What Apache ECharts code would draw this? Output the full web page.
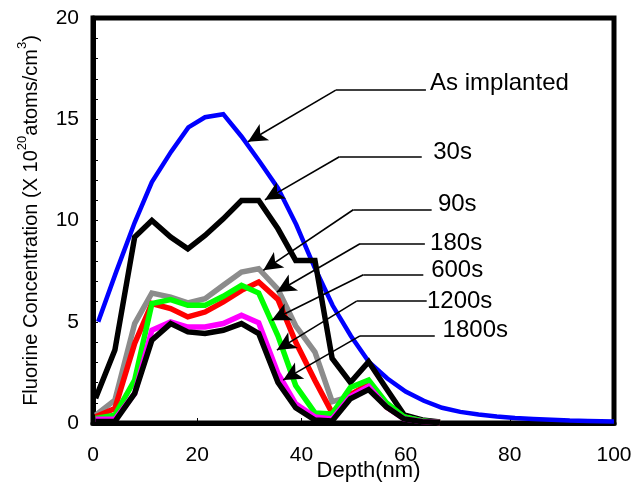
<!DOCTYPE html>
<html><head><meta charset="utf-8">
<script src="https://cdn.jsdelivr.net/npm/echarts@6/dist/echarts.min.js"></script>
<style>html,body{margin:0;padding:0;background:#fff}#c{width:639px;height:482px}</style>
</head><body><div id="c"></div>
<script>
// As implanted profile
const blueDepth = [1, 4.5, 8, 11.3, 15, 18.3, 21.5, 25, 28.5, 32, 35.5, 39, 42.5, 46, 49.5, 53, 56.5, 60, 63.5, 67, 70.5, 74, 77.5, 81, 84.5, 88, 91.5, 95, 100];
const blueConc  = [5.0, 7.5, 9.9, 11.9, 13.4, 14.6, 15.1, 15.25, 14.15, 12.9, 11.6, 9.8, 7.7, 5.8, 4.3, 3.0, 2.2, 1.55, 1.1, 0.75, 0.55, 0.42, 0.32, 0.25, 0.2, 0.16, 0.12, 0.1, 0.08];
// annealed profiles
const depth  = [0.5, 4.2, 8, 11.3, 14.9, 18.2, 21.5, 25, 28.5, 31.8, 35.5, 38.9, 42.6, 45.9, 49.4, 52.9, 56.3, 59.7, 63.2, 66.6];
const c30s   = [1.22, 3.6, 9.18, 10.0, 9.18, 8.6, 9.26, 10.08, 10.99, 10.99, 9.59, 8.03, 8.03, 3.19, 2.0, 3.02, 1.7, 0.4, 0.15, 0.05];
const c90s   = [0.39, 1.13, 4.91, 6.42, 6.22, 5.93, 6.14, 6.8, 7.45, 7.62, 6.6, 4.8, 3.5, 1.05, 1.3, 2.0, 0.9, 0.3, 0.1, 0.03];
const c180s  = [0.31, 0.72, 3.93, 5.9, 5.65, 5.24, 5.48, 5.98, 6.55, 6.96, 6.1, 4.0, 2.1, 0.5, 1.4, 1.9, 0.8, 0.25, 0.08, 0.02];
const c600s  = [0.23, 0.39, 2.12, 5.9, 6.09, 5.81, 5.81, 6.26, 6.8, 6.42, 4.3, 1.85, 0.5, 0.45, 1.75, 2.12, 1.0, 0.3, 0.1, 0.03];
const c1200s = [0.18, 0.18, 1.46, 4.58, 4.99, 4.74, 4.74, 4.91, 5.32, 4.95, 2.45, 0.95, 0.3, 0.2, 1.3, 1.8, 0.8, 0.2, 0.07, 0.02];
const c1800s = [0.07, 0.07, 1.46, 4.09, 4.91, 4.5, 4.42, 4.58, 4.91, 4.42, 2.0, 0.75, 0.15, 0.1, 1.2, 1.65, 0.8, 0.2, 0.06, 0.02];
// axis ticks
const xTicks = [0, 20, 40, 60, 80, 100];
const yTicks = [0, 5, 10, 15, 20];
// annotations (data coordinates)
const annLabels = ['As implanted', '30s', '90s', '180s', '600s', '1200s', '1800s'];
const annTextX  = [64.7, 65.3, 66.2, 64.7, 64.9, 64.1, 67.1];
const annTextY  = [16.75, 13.36, 10.82, 8.88, 7.54, 6.02, 4.58];
const annLineX0 = [46.6, 47.3, 49.96, 51.25, 51.9, 50.6, 51.25];
const annLineX1 = [63.9, 63.1, 65.0, 63.7, 63.4, 64.05, 65.6];
const annLineY  = [16.44, 13.15, 10.53, 8.85, 7.32, 6.02, 4.30];
const annTipX   = [29.75, 33.0, 32.7, 35.3, 34.3, 35.3, 36.5];
const annTipY   = [13.89, 11.02, 7.54, 6.47, 5.07, 3.6, 2.12];

const FONT = 'Liberation Sans, Arial, sans-serif';
const zip = (xs, ys) => xs.map((x, i) => [x, ys[i]]);

function lineSeries(name, xs, ys, color, width) {
  return {
    name, type: 'line', data: zip(xs, ys), symbol: 'none', smooth: false,
    lineStyle: { color, width, join: 'miter' }, animation: false, silent: true
  };
}

const mlData = [];
const mpData = [];
annLabels.forEach((lab, i) => {
  mlData.push([{ coord: [annLineX1[i], annLineY[i]], symbol: 'none' }, { coord: [annLineX0[i], annLineY[i]], symbol: 'none' }]);
  mlData.push([{ coord: [annLineX0[i], annLineY[i]], symbol: 'none' }, { coord: [annTipX[i], annTipY[i]], symbol: 'arrow', symbolSize: [14, 19] }]);
  mpData.push({ coord: [annTextX[i], annTextY[i]], value: lab });
});

const chart = echarts.init(document.getElementById('c'));
chart.setOption({
  animation: false,
  backgroundColor: '#fff',
  grid: {
    left: 93, right: 25, top: 18, bottom: 59, containLabel: false, outerBoundsMode: 'none',
    show: true, borderColor: '#000', borderWidth: 5, backgroundColor: 'transparent'
  },
  xAxis: {
    type: 'value', min: xTicks[0], max: xTicks[xTicks.length - 1], interval: 20,
    name: 'Depth(nm)', nameLocation: 'middle', nameGap: 37, nameMoveOverlap: false,
    nameTextStyle: { fontFamily: FONT, fontSize: 22, color: '#000', padding: [0, 0, 0, 30] },
    axisLine: { show: true, lineStyle: { color: '#000', width: 5 } },
    axisTick: { show: true, inside: true, length: 5, lineStyle: { color: '#000', width: 1 } },
    axisLabel: { fontFamily: FONT, fontSize: 21, color: '#000', margin: 22 },
    splitLine: { show: false }
  },
  yAxis: {
    type: 'value', min: yTicks[0], max: yTicks[yTicks.length - 1], interval: 5,
    name: '{a|Fluorine Concentration (X 10}{s|20}{a|atoms/cm}{s|3}{a|)}',
    nameLocation: 'middle', nameGap: 52, nameRotate: 90, nameMoveOverlap: false,
    nameTextStyle: {
      color: '#000',
      rich: {
        a: { fontFamily: FONT, fontSize: 20, color: '#000', lineHeight: 25, verticalAlign: 'bottom' },
        s: { fontFamily: FONT, fontSize: 13, color: '#000', lineHeight: 25, verticalAlign: 'top' }
      }
    },
    axisLine: { show: true, lineStyle: { color: '#000', width: 5 } },
    axisTick: { show: true, inside: true, length: 5, lineStyle: { color: '#000', width: 1 } },
    minorTick: { show: true, splitNumber: 5, length: 5, lineStyle: { color: '#000', width: 1 } },
    axisLabel: { fontFamily: FONT, fontSize: 21, color: '#000', margin: 14 },
    splitLine: { show: false }, minorSplitLine: { show: false }
  },
  series: [
    lineSeries('As implanted', blueDepth, blueConc, '#0000ff', 4.5),
    lineSeries('30s', depth, c30s, '#000000', 5.5),
    lineSeries('90s', depth, c90s, '#8c8c8c', 5.5),
    lineSeries('180s', depth, c180s, '#ff0000', 5.5),
    lineSeries('600s', depth, c600s, '#00ff00', 5.5),
    lineSeries('1200s', depth, c1200s, '#ff00ff', 5.5),
    lineSeries('1800s', depth, c1800s, '#000000', 5.5),
    {
      type: 'line', data: [], silent: true, animation: false,
      markLine: {
        silent: true, animation: false, symbol: ['none', 'none'],
        lineStyle: { color: '#000', width: 1.6, type: 'solid' },
        label: { show: false }, emphasis: { disabled: true },
        data: mlData
      },
      markPoint: {
        silent: true, animation: false, symbol: 'circle', symbolSize: 0,
        label: { show: true, position: 'right', distance: 0, formatter: p => p.value, fontFamily: FONT, fontSize: 24, color: '#000' },
        data: mpData
      }
    }
  ]
});
</script>
</body></html>
